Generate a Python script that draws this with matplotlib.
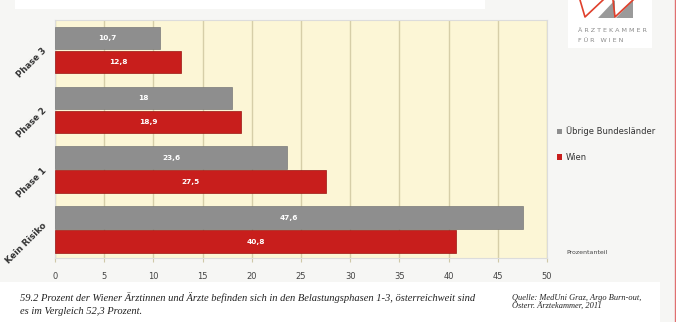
import numpy as np
import matplotlib
matplotlib.use("Agg")
from matplotlib import pyplot as plt
from matplotlib.patches import Polygon, Rectangle, Patch
from matplotlib.lines import Line2D

# data (Prozentanteil), bottom to top
categories = ["Kein Risiko", "Phase 1", "Phase 2", "Phase 3"]
uebrige = [47.6, 23.6, 18.0, 10.7]
wien = [40.8, 27.5, 18.9, 12.8]
uebrige_labels = ["47,6", "23,6", "18", "10,7"]
wien_labels = ["40,8", "27,5", "18,9", "12,8"]
xticks = list(range(0, 55, 5))

GRAY = "#8e8e8e"
RED = "#c81e1c"
BG = "#f6f6f4"
PLOT_BG = "#fcf6d6"

W, H = 676, 322


def px(x, y):
    # pixel coords (top-left origin) -> figure fraction
    return (x / W, 1 - y / H)


def main():
    fig = plt.figure(figsize=(W / 100, H / 100), dpi=100)
    fig.patch.set_facecolor(BG)

    # white strips behind title / caption / logo
    fig.add_artist(Rectangle(px(15, 9), 470 / W, 9 / H, transform=fig.transFigure,
                             facecolor="white", edgecolor="none", zorder=0))
    fig.add_artist(Rectangle(px(0, 322), 660 / W, 40 / H, transform=fig.transFigure,
                             facecolor="white", edgecolor="none", zorder=0))
    fig.add_artist(Rectangle(px(568, 48), 84 / W, 48 / H, transform=fig.transFigure,
                             facecolor="white", edgecolor="none", zorder=0))
    fig.add_artist(Line2D([675 / W, 675 / W], [0, 1], transform=fig.transFigure,
                          color="#e07070", lw=1.0))

    left, right = px(55, 0)[0], px(547, 0)[0]
    bottom, top = px(0, 258)[1], px(0, 20)[1]
    ax = fig.add_axes([left, bottom, right - left, top - bottom])
    ax.set_facecolor(PLOT_BG)

    y = np.arange(len(categories))
    h = 0.4
    b1 = ax.barh(y + h / 2, uebrige, height=h - 0.02, color=GRAY,
                 edgecolor="#7a7a7a", linewidth=0.5, zorder=3)
    b2 = ax.barh(y - h / 2, wien, height=h - 0.02, color=RED,
                 edgecolor="#9a1512", linewidth=0.5, zorder=3)

    for bars, labels in ((b1, uebrige_labels), (b2, wien_labels)):
        for bar, lab in zip(bars, labels):
            ax.text(bar.get_width() / 2, bar.get_y() + bar.get_height() / 2, lab,
                    ha="center", va="center", color="white", fontsize=5.3,
                    fontweight="bold", zorder=4)

    ax.set_xlim(0, 50)
    ax.set_ylim(-0.47, 3.5)
    ax.set_xticks(xticks)
    ax.set_xticklabels([str(t) for t in xticks], fontsize=6, color="#444444")
    ax.tick_params(axis="x", length=3, color="#cfc8a8", pad=7)
    ax.set_yticks(y - 0.22)
    ax.set_yticklabels(categories, rotation=45, fontsize=6.2, fontweight="bold",
                       color="#333333", va="center")
    ax.tick_params(axis="y", length=0, pad=5)
    ax.grid(axis="x", color="#d6cea8", linewidth=1.0, zorder=1)
    for s in ax.spines.values():
        s.set_color("#dcdcdc")
        s.set_linewidth(0.8)

    # legend
    handles = [Patch(facecolor=GRAY, edgecolor="none"), Patch(facecolor=RED, edgecolor="none")]
    fig.legend(handles, ["Übrige Bundesländer", "Wien"], loc="upper left",
               bbox_to_anchor=px(549, 119), frameon=False, fontsize=6,
               handlelength=0.7, handleheight=0.7, handletextpad=0.4,
               labelspacing=2.0, labelcolor="#333333")
    fig.text(*px(566, 252), "Prozentanteil", fontsize=4.5, color="#444444",
             ha="left", va="center")

    # logo
    fig.add_artist(Polygon([px(598, 18), px(615, 0), px(615, 18)], closed=True,
                           transform=fig.transFigure, facecolor="#9a9a9a", edgecolor="none"))
    fig.add_artist(Polygon([px(616, 18), px(633, 0), px(633, 18)], closed=True,
                           transform=fig.transFigure, facecolor="#9a9a9a", edgecolor="none"))
    for pts in ([(580, 0), (585, 17), (603, 0)], [(613, 0), (615, 17), (633, 0)]):
        xs, ys = zip(*[px(a, b) for a, b in pts])
        fig.add_artist(Line2D(xs, ys, transform=fig.transFigure, color="#e0402c", lw=1.2))
    fig.text(*px(578, 30), "Ä R Z T E K A M M E R", fontsize=4.6, color="#8a8a8a",
             ha="left", va="center")
    fig.text(*px(578, 41), "F Ü R   W I E N", fontsize=4.6, color="#8a8a8a",
             ha="left", va="center")

    # caption
    cap = dict(family="Liberation Serif", style="italic", color="#222222", va="center")
    fig.text(*px(20, 298), "59.2 Prozent der Wiener Ärztinnen und Ärzte befinden sich in den "
             "Belastungsphasen 1-3, österreichweit sind", fontsize=7.6, **cap)
    fig.text(*px(20, 311), "es im Vergleich 52,3 Prozent.", fontsize=7.6, **cap)
    fig.text(*px(512, 298), "Quelle: MedUni Graz, Argo Burn-out,", fontsize=6, **cap)
    fig.text(*px(512, 307), "Österr. Ärztekammer, 2011", fontsize=6, **cap)

    fig.savefig("out.png", dpi=100, facecolor=fig.get_facecolor())


if __name__ == '__main__': main()
